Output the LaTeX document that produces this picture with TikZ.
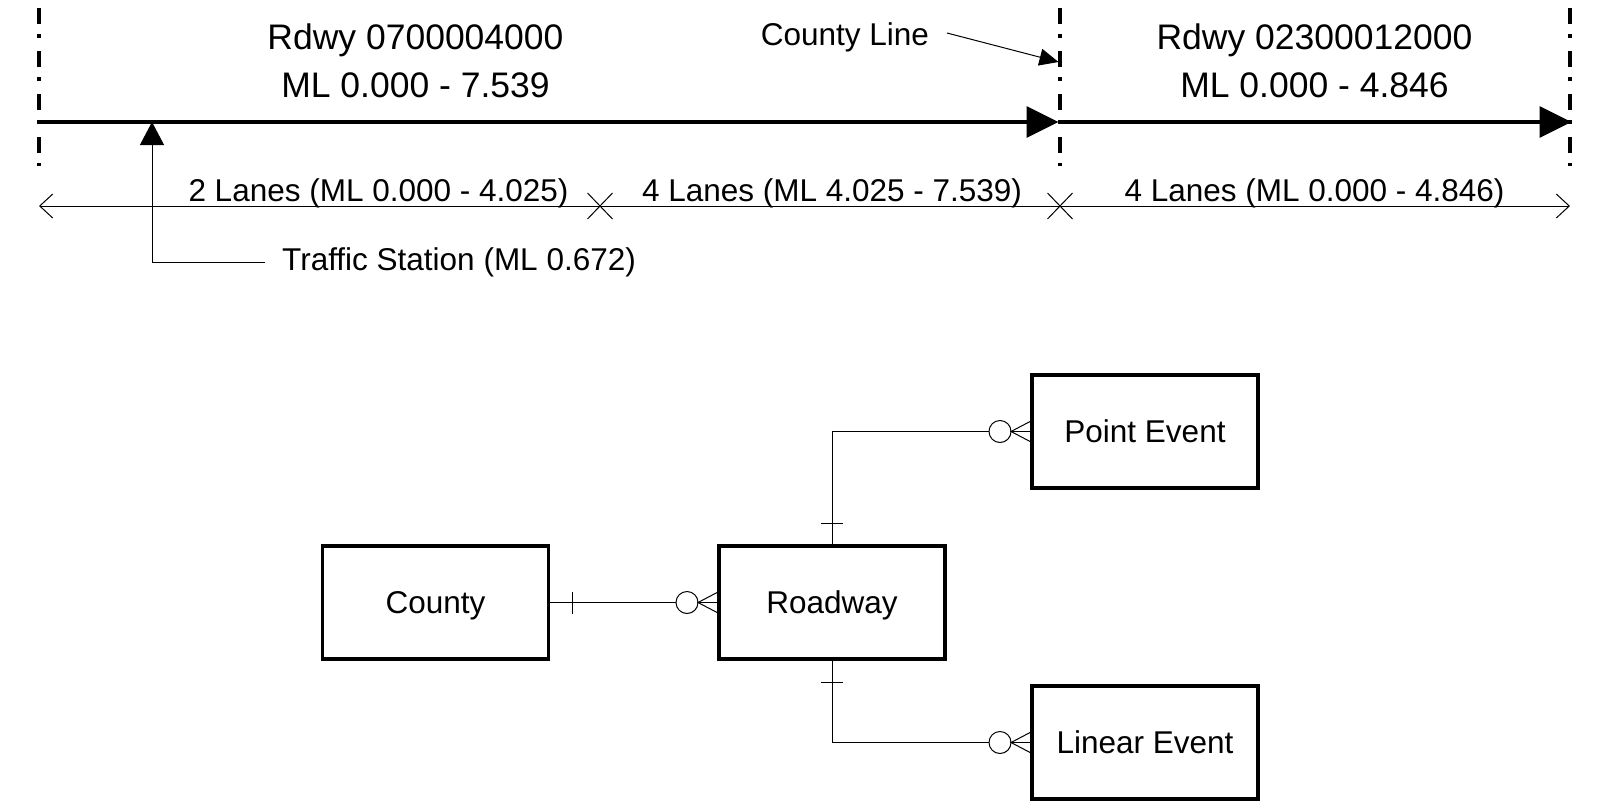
\documentclass[tikz,border=0pt]{standalone}
\usepackage{fontspec}
\setmainfont{Liberation Sans}
\usetikzlibrary{arrows.meta,calc}
\begin{document}
\begin{tikzpicture}[x=1pt,y=-1pt,
  big/.style={font=\fontsize{35.5}{48}\selectfont, align=center, anchor=base, inner sep=0pt},
  small/.style={font=\fontsize{31.5}{36}\selectfont, anchor=base, inner sep=0pt},
  divider/.style={line width=3.5pt, dash pattern=on 16pt off 10pt on 4pt off 13pt, dash phase=35pt},
  roadline/.style={line width=3.5pt, -{Triangle[length=32pt,width=31pt]}},
  lanes/.style={line width=1pt, {Straight Barb[length=13pt,width=24pt]}-{Straight Barb[length=13pt,width=24pt]}},
  conn/.style={line width=1pt},
  entity/.style={draw, line width=3.5pt, minimum width=226pt, minimum height=113pt, inner sep=0pt, outer sep=0pt,
    font=\fontsize{31.5}{36}\selectfont, text height=22.5pt, text depth=0pt},
]
\useasboundingbox (0,0) rectangle (1609,809);

% ---- timeline ----
\coordinate (d1t) at (39,0);   \coordinate (d1b) at (39,166);
\coordinate (d2t) at (1060,0); \coordinate (d2b) at (1060,166);
\coordinate (d3t) at (1570,0); \coordinate (d3b) at (1570,166);
\draw[divider] (d1t) -- (d1b);
\draw[divider] (d2t) -- (d2b);
\draw[divider] (d3t) -- (d3b);

\coordinate (rA) at (39,122);
\coordinate (rB) at (1058.5,122);
\coordinate (rC) at (1060,122);
\coordinate (rD) at (1571.5,122);
\draw[roadline] (rA) -- (rB);
\draw[roadline] (rC) -- (rD);

% anchor=base is the baseline of the last line
\node[big] (t1) at (415.5,97) {Rdwy 0700004000\\ML 0.000 - 7.539};
\node[big] (t2) at (1314.5,97) {Rdwy 02300012000\\ML 0.000 - 4.846};

\node[small] (cl) at (845,45) {County Line};
\coordinate (clS) at (947,33);
\coordinate (clT) at (1058.5,62);
\draw[conn,-{Triangle[length=19pt,width=17pt]}] (clS) -- (clT);

% lanes
\coordinate (lL) at (39,206);
\coordinate (lR) at (1570,206);
\draw[lanes] (lL) -- (lR);
\coordinate (x1) at (600,206);
\coordinate (x2) at (1060,206);
\foreach \c in {x1,x2}{
  \draw[conn] ($(\c)+(-12.5,-13)$) -- ($(\c)+(12.5,13)$);
  \draw[conn] ($(\c)+(-12.5,13)$) -- ($(\c)+(12.5,-13)$);
}
\node[small] (l1) at (378.5,201) {2 Lanes (ML 0.000 - 4.025)};
\node[small] (l2) at (832,201) {4 Lanes (ML 4.025 - 7.539)};
\node[small] (l3) at (1314.5,201) {4 Lanes (ML 0.000 - 4.846)};

% traffic station
\node[small, anchor=base west] (ts) at (282,270) {Traffic Station (ML 0.672)};
\coordinate (tsE) at (265,262);
\coordinate (tsT) at (152,122);
\draw[conn,-{Triangle[length=23pt,width=24pt]}] (tsE) -| (tsT);

% ---- ER diagram ----
\node[entity] (county) at (435.5,602.5) {County};
\node[entity] (rdwy) at (832,602.5) {Roadway};
\node[entity] (pe) at (1145,431.5) {Point Event};
\node[entity] (le) at (1145,742.5) {Linear Event};

% County -- Roadway
\draw[conn] (county.east) -- (rdwy.west);
\draw[conn] ($(county.east)+(24,-11)$) -- ($(county.east)+(24,11)$);
\draw[conn,fill=white] ($(rdwy.west)+(-32,0)$) circle[radius=11pt];
\draw[conn] ($(rdwy.west)+(0,-11)$) -- ($(rdwy.west)+(-21,0)$) -- ($(rdwy.west)+(0,11)$);

% Roadway -- Point Event
\draw[conn] (rdwy.north) |- (pe.west);
\draw[conn] ($(rdwy.north)+(-11,-23)$) -- ($(rdwy.north)+(11,-23)$);
\draw[conn,fill=white] ($(pe.west)+(-32,0)$) circle[radius=11pt];
\draw[conn] ($(pe.west)+(0,-11)$) -- ($(pe.west)+(-21,0)$) -- ($(pe.west)+(0,11)$);

% Roadway -- Linear Event
\draw[conn] (rdwy.south) |- (le.west);
\draw[conn] ($(rdwy.south)+(-11,23)$) -- ($(rdwy.south)+(11,23)$);
\draw[conn,fill=white] ($(le.west)+(-32,0)$) circle[radius=11pt];
\draw[conn] ($(le.west)+(0,-11)$) -- ($(le.west)+(-21,0)$) -- ($(le.west)+(0,11)$);
\end{tikzpicture}
\end{document}
